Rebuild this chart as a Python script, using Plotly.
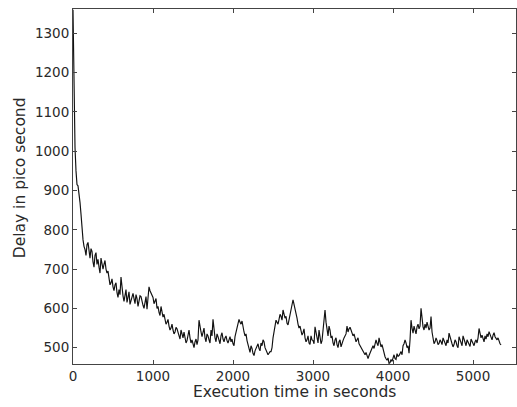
import plotly.graph_objects as go

start_time_s = [0, 8, 16]
start_delay_ps = [1360, 1230, 1100]
sample_step_s = 25
# readings on the 25 s grid (from t = 25 s)
delay_ps = [
    1010, 915, 895, 840, 775, 750, 762, 740, 752, 718,
    735, 712, 705, 728, 700, 722, 690, 672, 665, 655,
    660, 640, 648, 680, 632, 640, 615, 642, 620, 638,
    612, 625, 618, 630, 608, 622, 598, 655, 640, 628,
    618, 600, 590, 605, 578, 570, 565, 555, 550, 545,
    540, 548, 530, 545, 525, 528, 518, 545, 512, 505,
    515, 508, 570, 540, 545, 525, 535, 520, 545, 572,
    525, 535, 518, 530, 522, 525, 518, 520, 515, 510,
    528, 555, 572, 560, 550, 530, 518, 495, 505, 485,
    492, 505, 498, 512, 520, 500, 488, 486, 490, 525,
    560, 565, 572, 580, 596, 575, 562, 570, 590, 622,
    600, 575, 550, 545, 538, 525, 520, 512, 530, 518,
    553, 520, 545, 510, 540, 596, 540, 555, 525, 512,
    520, 508, 515, 502, 518, 530, 555, 548, 545, 530,
    525, 520, 510, 500, 490, 482, 478, 480, 495, 505,
    515, 511, 525, 502, 495, 477, 468, 460, 470, 477,
    472, 485, 480, 490, 505, 520, 500, 486, 570, 537,
    545, 553, 548, 600, 553, 560, 565, 545, 579, 520,
    515, 518, 511, 515, 525, 510, 520, 537, 515, 502,
    520, 505, 528, 510, 530, 512, 520, 508, 522, 511,
    515, 512, 549, 525, 520, 530, 535, 541, 528, 532,
    528, 520, 515, 507,
]
# readings half way between grid points (noise between samples)
delay_mid_ps = [
    950, 912, 870, 800, 758, 735, 768, 728, 745, 705,
    742, 725, 690, 716, 712, 700, 695, 660, 675, 645,
    665, 628, 635, 650, 618, 648, 625, 610, 630, 625,
    635, 605, 632, 615, 600, 630, 620, 645, 632, 612,
    625, 605, 582, 595, 585, 560, 572, 545, 560, 535,
    552, 538, 522, 535, 540, 512, 530, 525, 520, 500,
    522, 520, 548, 528, 550, 515, 530, 512, 530, 540,
    515, 528, 510, 538, 515, 530, 512, 528, 522, 505,
    540, 560, 565, 568, 540, 535, 505, 488, 498, 480,
    498, 510, 492, 505, 515, 495, 482, 490, 500, 545,
    570, 560, 585, 570, 588, 580, 558, 580, 605, 610,
    590, 560, 555, 532, 548, 515, 530, 508, 520, 510,
    535, 512, 530, 518, 560, 565, 530, 545, 530, 505,
    525, 500, 520, 508, 525, 535, 540, 552, 538, 535,
    515, 525, 505, 495, 485, 488, 472, 486, 500, 498,
    520, 505, 515, 508, 488, 472, 474, 462, 465, 482,
    470, 478, 485, 482, 510, 512, 505, 520, 550, 555,
    535, 560, 555, 570, 545, 550, 555, 550, 540, 510,
    525, 508, 520, 508, 518, 505, 512, 525, 510, 508,
    515, 500, 518, 505, 522, 505, 515, 503, 515, 505,
    520, 525, 530, 532, 515, 522, 528, 535, 520, 538,
    522, 525, 510,
]

time_s = list(start_time_s)
delay_all = list(start_delay_ps)
for i, v in enumerate(delay_ps):
    time_s.append(sample_step_s * (i + 1))
    delay_all.append(v)
    if i < len(delay_mid_ps):
        time_s.append(sample_step_s * (i + 1.5))
        delay_all.append(delay_mid_ps[i])

x_ticks = [0, 1000, 2000, 3000, 4000, 5000]
y_ticks = [500, 600, 700, 800, 900, 1000, 1100, 1200, 1300]

x_title = "Execution time in seconds"
y_title = "Delay in pico second"

fig = go.Figure()
fig.add_trace(go.Scatter(
    x=time_s, y=delay_all, mode="lines",
    line=dict(color="#111111", width=1.15),
    showlegend=False, hoverinfo="skip",
))

font_family = "DejaVu Sans"
axis_color = "#444444"
text_color = "#2a2a2a"

fig.update_layout(
    width=517, height=407,
    margin=dict(l=73, r=1, t=9, b=43),
    paper_bgcolor="white", plot_bgcolor="white",
    font=dict(family=font_family, size=13.5, color=text_color),
    xaxis=dict(
        range=[0, 5537], tickvals=x_ticks, ticktext=[str(v) for v in x_ticks],
        ticks="inside", ticklen=4, tickcolor=axis_color, tickwidth=1,
        showline=True, linecolor=axis_color, linewidth=1, mirror="ticks",
        showgrid=False, zeroline=False, automargin=False,
        tickfont=dict(family=font_family, size=13.5, color=text_color),
    ),
    yaxis=dict(
        range=[458.5, 1362], tickvals=y_ticks, ticktext=[str(v) for v in y_ticks],
        ticks="inside", ticklen=4, tickcolor=axis_color, tickwidth=1,
        showline=True, linecolor=axis_color, linewidth=1, mirror="ticks",
        showgrid=False, zeroline=False, automargin=False,
        tickfont=dict(family=font_family, size=13.5, color=text_color),
    ),
    annotations=[
        dict(text=x_title, xref="paper", yref="paper", x=0.5, y=-0.078,
             xanchor="center", yanchor="middle", showarrow=False,
             font=dict(family=font_family, size=15.5, color=text_color)),
        dict(text=y_title, xref="paper", yref="paper", x=-0.119, y=0.524,
             xanchor="center", yanchor="middle", showarrow=False, textangle=-90,
             font=dict(family=font_family, size=15.5, color=text_color)),
    ],
)

fig.write_html(
    "out.html",
    config={"displayModeBar": False},
    post_script="document.body.style.margin='0';document.body.style.padding='0';",
)
